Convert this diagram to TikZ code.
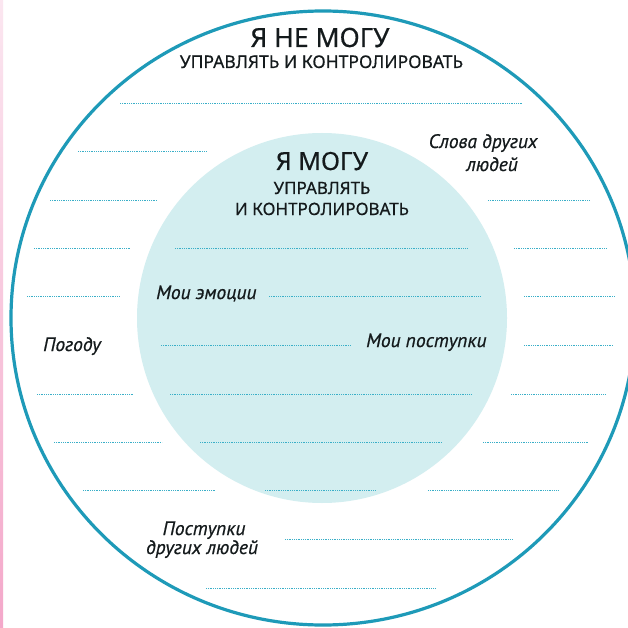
\documentclass[tikz,border=0pt]{standalone}
\usepackage{fontspec}
\setmainfont{Noto Sans}[FakeBold=0.5]
\newfontfamily\hand{PT Sans Italic}[FakeBold=0.6]
\usetikzlibrary{shadings}
\definecolor{ring}{HTML}{1E9AB8}
\definecolor{innerfill}{HTML}{D3EEF0}
\definecolor{dotc}{HTML}{3AAFC8}
\definecolor{ink}{HTML}{141A1C}
\definecolor{pinktop}{HTML}{FBE6F0}
\definecolor{pinkbot}{HTML}{F4A8CA}
\tikzset{
  dots/.style={dotc, line width=0.9pt, dash pattern=on 0.9pt off 0.9pt},
  bigtitle/.style={anchor=base, text=ink, font=\fontsize{26.5}{30}\selectfont, inner sep=0pt},
  subtitle/.style={anchor=base, text=ink, font=\fontsize{17.5}{20}\selectfont, inner sep=0pt},
  midtitle/.style={anchor=base, text=ink, font=\fontsize{25}{27}\selectfont, inner sep=0pt},
  midsub/.style={anchor=base, text=ink, font=\fontsize{17}{19}\selectfont, inner sep=0pt},
  script/.style={text=ink, font=\hand\fontsize{19.5}{20}\selectfont, inner sep=0pt},
}
\begin{document}
\begin{tikzpicture}[x=1pt,y=-1pt]
\useasboundingbox (0,0) rectangle (627,628);
\fill[white] (0,0) rectangle (627,628);
% pink strip at the left edge
\shade[top color=pinktop, bottom color=pinkbot] (0,0) rectangle (3,628);
% circles
\fill[innerfill] (322,318) circle[radius=185];
\draw[ring, line width=3.2pt] (323,318) ellipse[x radius=312, y radius=307];
% titles
\node[bigtitle] (t1) at (320,47) {Я НЕ МОГУ};
\node[subtitle] (s1) at (321.5,68) {УПРАВЛЯТЬ И КОНТРОЛИРОВАТЬ};
\node[midtitle] (t2) at (322,170) {Я МОГУ};
\node[midsub] (s2a) at (322,194) {УПРАВЛЯТЬ};
\node[midsub] (s2b) at (322,215) {И КОНТРОЛИРОВАТЬ};
% handwritten labels
\node[script, anchor=base west] (emo) at (156,299) {Мои эмоции};
\node[script, anchor=base west] (pog) at (43,351) {Погоду};
\node[script, anchor=base west] (post) at (366,347) {Мои поступки};
\node[script, anchor=base] (slova1) at (483,148) {Слова других};
\node[script, anchor=base] (slova2) at (492,171) {людей};
\node[script, anchor=base] (dr1) at (204,535) {Поступки};
\node[script, anchor=base] (dr2) at (202,554) {других людей};
% dotted writing lines
\draw[dots] (120,103) -- (522,103);
\draw[dots] (78,151) -- (207,151);
\draw[dots] (50,200) -- (157,200);
\draw[dots] (488,200) -- (590,200);
\draw[dots] (34,248) -- (131,248);
\draw[dots] (175,248) -- (467,248);
\draw[dots] (514,248) -- (607,248);
\draw[dots] (27,296) -- (120,296);
\draw[dots] (269,296) -- (481,296);
\draw[dots] (524,296) -- (615,296);
\draw[dots] (161,345) -- (351,345);
\draw[dots] (524,345) -- (613,345);
\draw[dots] (37,394) -- (133,394);
\draw[dots] (170,394) -- (472,394);
\draw[dots] (511,394) -- (606,394);
\draw[dots] (54,442) -- (162,442);
\draw[dots] (200,442) -- (442,442);
\draw[dots] (483,442) -- (588,442);
\draw[dots] (83,490) -- (216,490);
\draw[dots] (265,490) -- (376,490);
\draw[dots] (428,490) -- (559,490);
\draw[dots] (285,539) -- (513,539);
\draw[dots] (206,588) -- (436,588);
\end{tikzpicture}
\end{document}
